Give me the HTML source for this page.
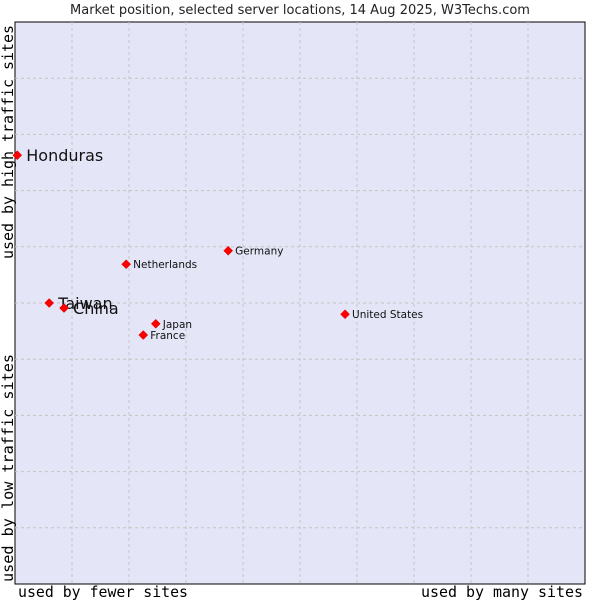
<!DOCTYPE html>
<html><head><meta charset="utf-8"><style>
body{margin:0;background:#fff;}
svg{display:block;}
</style></head><body>
<svg width="600" height="600" xmlns="http://www.w3.org/2000/svg">
<text x="300" y="14" text-anchor="middle" font-family="DejaVu Sans, sans-serif" font-size="13" fill="#222">Market position, selected server locations, 14 Aug 2025, W3Techs.com</text>
<rect x="15" y="22" width="570" height="562" fill="#e4e6f8" stroke="#000" stroke-width="1"/>
<g id="grid"></g>
<g id="pts"></g>
<text x="18" y="597" textLength="170" lengthAdjust="spacingAndGlyphs" font-family="DejaVu Sans Mono, monospace" font-size="15" fill="#000">used by fewer sites</text>
<text x="421" y="597" textLength="162" lengthAdjust="spacingAndGlyphs" font-family="DejaVu Sans Mono, monospace" font-size="15" fill="#000">used by many sites</text>
<text transform="translate(13,582) rotate(-90)" textLength="228" lengthAdjust="spacingAndGlyphs" font-family="DejaVu Sans Mono, monospace" font-size="15" fill="#000">used by low traffic sites</text>
<text transform="translate(13,259) rotate(-90)" textLength="234" lengthAdjust="spacingAndGlyphs" font-family="DejaVu Sans Mono, monospace" font-size="15" fill="#000">used by high traffic sites</text>
</svg>
<script>
const names=["Honduras","Taiwan","China","Netherlands","Germany","Japan","France","United States"];
const xVals=[0.04,0.6,0.86,1.95,3.74,2.47,2.25,5.79];
const yVals=[7.63,5.0,4.91,5.69,5.93,4.63,4.43,4.80];
const bigLabel=[true,true,true,false,false,false,false,false];
const NS="http://www.w3.org/2000/svg";
const X0=15,X1=585,Y0=584,Y1=22;
const sx=v=>X0+v/10*(X1-X0);
const sy=v=>Y0-v/10*(Y0-Y1);
const grid=document.getElementById('grid');
for(let i=1;i<10;i++){
  const v=document.createElementNS(NS,'line');
  v.setAttribute('x1',sx(i));v.setAttribute('x2',sx(i));v.setAttribute('y1',Y1);v.setAttribute('y2',Y0);
  v.setAttribute('stroke','#c4c4c4');v.setAttribute('stroke-dasharray','3,3');
  
  
  grid.appendChild(v);
  const h=document.createElementNS(NS,'line');
  h.setAttribute('y1',sy(i));h.setAttribute('y2',sy(i));h.setAttribute('x1',X0);h.setAttribute('x2',X1);
  h.setAttribute('stroke','#c4c4c4');h.setAttribute('stroke-dasharray','3,3');
  
  
  grid.appendChild(h);
}
const pts=document.getElementById('pts');
names.forEach((n,i)=>{
  const x=sx(xVals[i]),y=sy(yVals[i]);
  const d=document.createElementNS(NS,'path');
  d.setAttribute('d',`M${x-4.5},${y}L${x},${y-4.5}L${x+4.5},${y}L${x},${y+4.5}Z`);
  d.setAttribute('fill','#f00');d.setAttribute('stroke','#c00');d.setAttribute('stroke-width','0.5');
  
  
  pts.appendChild(d);
  const t=document.createElementNS(NS,'text');
  t.setAttribute('x',x+(bigLabel[i]?9:7));
  t.setAttribute('y',y+(bigLabel[i]?6:4));
  t.setAttribute('font-family','DejaVu Sans, sans-serif');
  t.setAttribute('font-size',bigLabel[i]?'16':'10.5');
  t.setAttribute('fill','#111');
  t.textContent=n;
  
  
  pts.appendChild(t);
});
</script>
</body></html>
